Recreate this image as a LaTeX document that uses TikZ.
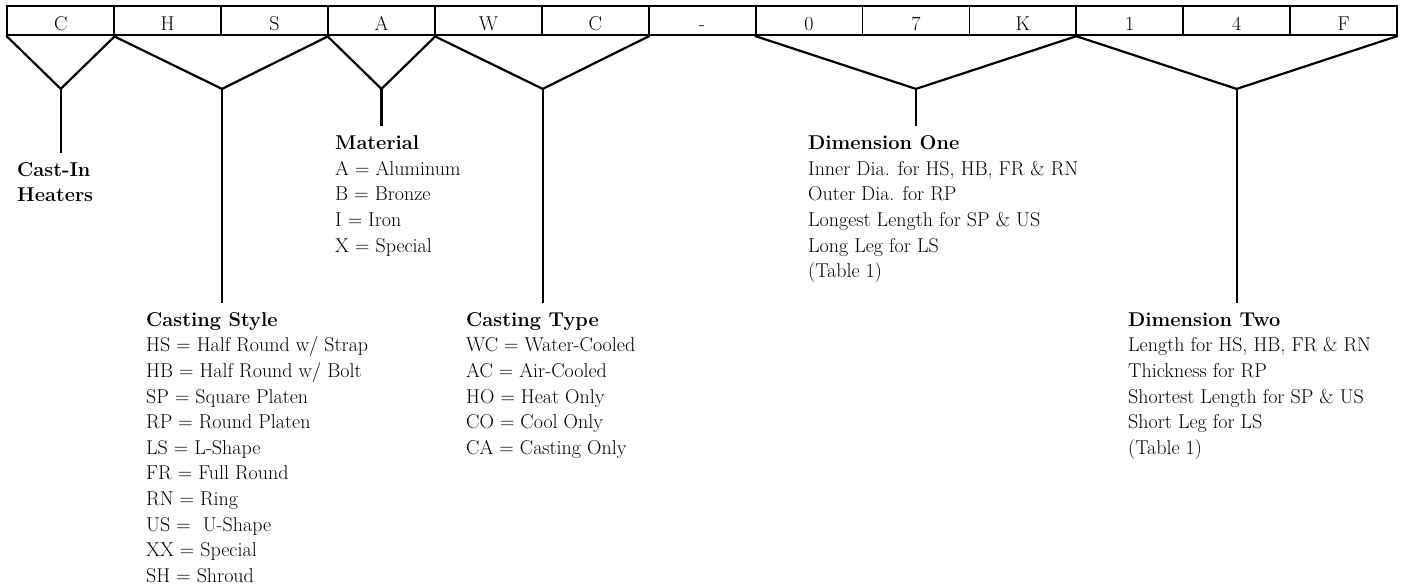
\documentclass[tikz,border=0pt]{standalone}
\begin{document}
\begin{tikzpicture}[x=1pt,y=-1pt,
  cellbox/.style={draw, line width=1.8pt, minimum width=106.9pt, minimum height=29pt,
    inner sep=0pt, text height=20pt, text depth=0pt, font=\fontsize{20pt}{24pt}\selectfont},
  lbl/.style={anchor=north west, align=left, inner xsep=0pt, inner ysep=9pt,
    font=\fontsize{20pt}{25.6pt}\selectfont},
  arm/.style={line width=2.2pt, line join=miter},
  stem/.style={line width=2.2pt}]
\useasboundingbox (0,0) rectangle (1405,588);
% code cells
\foreach \t [count=\i from 0] in {C,H,S,A,W,C,-,0,7,K,1,4,F}{
  \node[cellbox] (c\i) at ({7.3+(\i+0.5)*106.9},20.5) {\t};
}
% vertices
\coordinate (v0) at ([yshift=-53pt]c0.south);
\coordinate (v1) at ([yshift=-53pt]c1.south east);
\coordinate (v2) at ([yshift=-53pt]c3.south);
\coordinate (v3) at ([yshift=-53pt]c4.south east);
\coordinate (v4) at ([yshift=-53pt]c8.south);
\coordinate (v5) at ([yshift=-53pt]c11.south);
% labels
\newcommand{\rs}{\rule{0pt}{14pt}}
\node[lbl] (l0) at (17,153) {\rs\textbf{Cast-In}\\\textbf{Heaters}};
\node[lbl] (l1) at (146,303) {\rs\textbf{Casting Style}\\HS = Half Round w/ Strap\\HB = Half Round w/ Bolt\\SP = Square Platen\\RP = Round Platen\\LS = L-Shape\\FR = Full Round\\RN = Ring\\US = \ U-Shape\\XX = Special\\SH = Shroud};
\node[lbl] (l2) at (335,126.5) {\rs\textbf{Material}\\A = Aluminum\\B = Bronze\\I = Iron\\X = Special};
\node[lbl] (l3) at (466,303) {\rs\textbf{Casting Type}\\WC = Water-Cooled\\AC = Air-Cooled\\HO = Heat Only\\CO = Cool Only\\CA = Casting Only};
\node[lbl] (l4) at (808,126.5) {\rs\textbf{Dimension One}\\Inner Dia. for HS, HB, FR \& RN\\Outer Dia. for RP\\Longest Length for SP \& US\\Long Leg for LS\\(Table 1)};
\node[lbl] (l5) at (1128,303) {\rs\textbf{Dimension Two}\\Length for HS, HB, FR \& RN\\Thickness for RP\\Shortest Length for SP \& US\\Short Leg for LS\\(Table 1)};
% brackets
\draw[arm] (c0.south west) -- (v0) -- (c0.south east);
\draw[arm] (c1.south west) -- (v1) -- (c2.south east);
\draw[arm] (c3.south west) -- (v2) -- (c3.south east);
\draw[arm] (c4.south west) -- (v3) -- (c5.south east);
\draw[arm] (c7.south west) -- (v4) -- (c9.south east);
\draw[arm] (c10.south west) -- (v5) -- (c12.south east);
% stems
\draw[stem] (v0) -- (v0 |- l0.north);
\draw[stem] (v1) -- (v1 |- l1.north);
\draw[stem] (v2) -- (v2 |- l2.north);
\draw[stem] (v3) -- (v3 |- l3.north);
\draw[stem] (v4) -- (v4 |- l4.north);
\draw[stem] (v5) -- (v5 |- l5.north);
\end{tikzpicture}
\end{document}
